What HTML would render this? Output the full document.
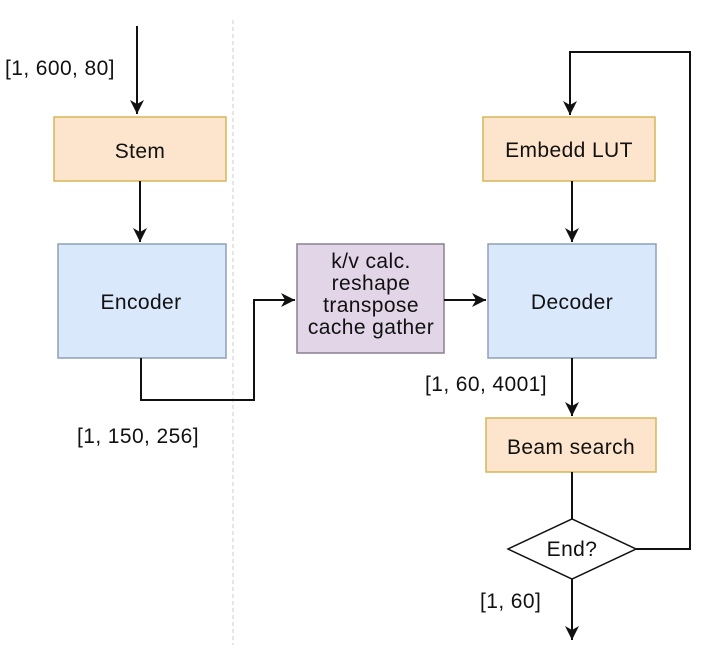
<!DOCTYPE html>
<html><head><meta charset="utf-8"><style>
html,body{margin:0;padding:0;background:#fff;}
svg{display:block;}
text{font-family:"Liberation Sans",Arial,sans-serif;font-size:21px;letter-spacing:0.4px;fill:#111;}
</style></head><body>
<svg width="702" height="666" viewBox="0 0 702 666" xmlns="http://www.w3.org/2000/svg">
<defs>
<marker id="a" markerWidth="16" markerHeight="16" refX="14" refY="7" orient="auto" markerUnits="userSpaceOnUse">
<path d="M0,0 L14,7 L0,14 L4,7 z" fill="#111"/>
</marker>
</defs>
<line x1="233" y1="20" x2="233" y2="645" stroke="#ccc" stroke-width="1" stroke-dasharray="4,3"/>
<rect x="54" y="117" width="172" height="64" fill="#fde4cc" stroke="#d6b656" stroke-width="1.5"/>
<text x="140" y="158" text-anchor="middle">Stem</text>
<rect x="58" y="244" width="168" height="114" fill="#dae8fc" stroke="#8da0b8" stroke-width="1.5"/>
<text x="141" y="309" text-anchor="middle">Encoder</text>
<rect x="297" y="244" width="147" height="109" fill="#e1d5e7" stroke="#8a8090" stroke-width="1.5"/>
<text x="371" y="268" text-anchor="middle">k/v calc.</text>
<text x="371" y="290" text-anchor="middle">reshape</text>
<text x="371" y="312" text-anchor="middle">transpose</text>
<text x="371" y="334" text-anchor="middle">cache gather</text>
<rect x="488" y="244" width="168" height="114" fill="#dae8fc" stroke="#8da0b8" stroke-width="1.5"/>
<text x="572" y="309" text-anchor="middle">Decoder</text>
<rect x="483" y="117" width="172" height="64" fill="#fde4cc" stroke="#d6b656" stroke-width="1.5"/>
<text x="569" y="157" text-anchor="middle">Embedd LUT</text>
<rect x="486" y="418" width="170" height="54" fill="#fde4cc" stroke="#d6b656" stroke-width="1.5"/>
<text x="571" y="454" text-anchor="middle">Beam search</text>
<polygon points="508,549 572,519 636,549 572,579" fill="#fff" stroke="#111" stroke-width="1.5"/>
<text x="572" y="556" text-anchor="middle">End?</text>
<g stroke="#111" stroke-width="2" fill="none">
<line x1="137" y1="26" x2="137" y2="114" marker-end="url(#a)"/>
<line x1="140" y1="181" x2="140" y2="242" marker-end="url(#a)"/>
<polyline points="141,358 141,400 254,400 254,300 295,300" marker-end="url(#a)"/>
<line x1="444" y1="300" x2="486" y2="300" marker-end="url(#a)"/>
<line x1="572" y1="181" x2="572" y2="242" marker-end="url(#a)"/>
<line x1="572" y1="358" x2="572" y2="416" marker-end="url(#a)"/>
<line x1="572" y1="472" x2="572" y2="519"/>
<line x1="572" y1="579" x2="572" y2="640" marker-end="url(#a)"/>
<polyline points="636,549 690,549 690,52 570,52 570,115" marker-end="url(#a)"/>
</g>
<text x="5" y="75">[1, 600, 80]</text>
<text x="77" y="443">[1, 150, 256]</text>
<text x="425" y="391">[1, 60, 4001]</text>
<text x="480" y="608">[1, 60]</text>
</svg>
</body></html>
